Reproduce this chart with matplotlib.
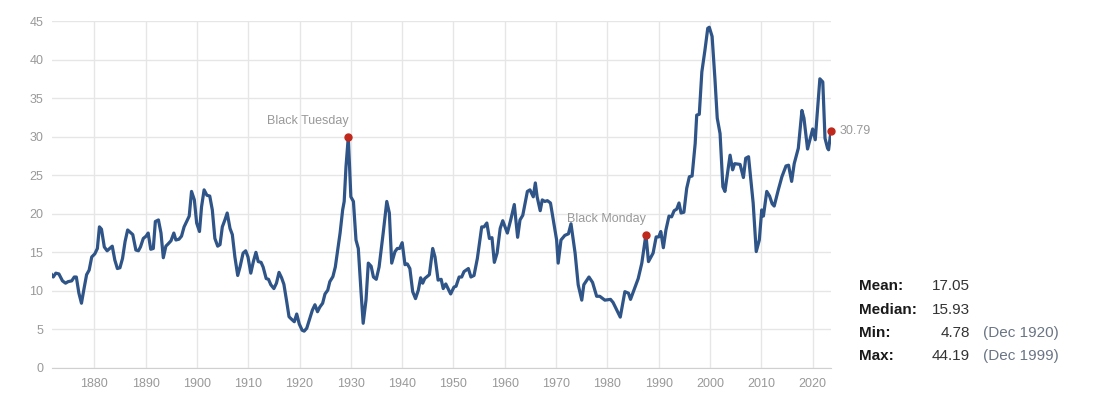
import matplotlib
matplotlib.use("Agg")
import matplotlib.pyplot as plt

plt.rcParams['font.family'] = ['Liberation Sans', 'DejaVu Sans']

years = [
    1871.7, 1872.0, 1872.5, 1873.1, 1873.8, 1874.4, 1874.9, 1875.6, 1876.1, 1876.5,
    1877.0, 1877.5, 1878.0, 1878.5, 1879.0, 1879.5, 1880.1, 1880.6, 1881.0, 1881.4,
    1881.95, 1882.5, 1883.0, 1883.5, 1884.0, 1884.5, 1885.0, 1885.5, 1886.0, 1886.5,
    1887.0, 1887.5, 1888.1, 1888.6, 1889.0, 1889.55, 1890.1, 1890.5, 1891.0, 1891.5,
    1891.9, 1892.5, 1893.0, 1893.45, 1893.95, 1894.4, 1894.95, 1895.5, 1895.9, 1896.5,
    1897.0, 1897.5, 1898.0, 1898.5, 1898.95, 1899.5, 1899.95, 1900.5, 1900.9, 1901.4,
    1901.95, 1902.5, 1903.0, 1903.5, 1904.05, 1904.5, 1904.95, 1905.45, 1905.9, 1906.45,
    1906.9, 1907.4, 1907.95, 1908.4, 1909.0, 1909.5, 1909.95, 1910.5, 1911.0, 1911.5,
    1911.95, 1912.5, 1912.9, 1913.5, 1913.95, 1914.4, 1915.0, 1915.5, 1916.0, 1916.5,
    1916.95, 1917.5, 1917.95, 1918.4, 1918.98, 1919.45, 1919.95, 1920.5, 1920.9, 1921.4,
    1921.9, 1922.5, 1923.0, 1923.5, 1923.95, 1924.5, 1924.96, 1925.5, 1925.9, 1926.5,
    1926.97, 1927.4, 1927.9, 1928.4, 1928.7, 1929.05, 1929.5, 1930.0, 1930.5, 1931.0,
    1931.45, 1932.0, 1932.4, 1932.95, 1933.4, 1933.95, 1934.4, 1934.95, 1935.5, 1936.3,
    1937.0, 1937.5, 1937.96, 1938.6, 1939.05, 1939.5, 1940.0, 1940.55, 1941.0, 1941.5,
    1942.05, 1942.6, 1943.15, 1943.6, 1944.0, 1944.4, 1945.3, 1945.95, 1946.4, 1947.0,
    1947.6, 1948.0, 1948.5, 1949.45, 1950.1, 1950.5, 1951.1, 1951.6, 1952.05, 1952.9,
    1953.4, 1954.0, 1954.65, 1955.5, 1955.95, 1956.5, 1957.0, 1957.5, 1957.96, 1958.5,
    1959.1, 1959.6, 1960.5, 1961.15, 1961.85, 1962.5, 1962.96, 1963.5, 1964.4, 1964.9,
    1965.55, 1965.95, 1966.3, 1966.9, 1967.3, 1967.8, 1968.3, 1968.9, 1969.45, 1970.1,
    1970.4, 1970.95, 1971.7, 1972.4, 1972.9, 1973.7, 1974.3, 1975.0, 1975.4, 1976.4,
    1977.1, 1977.9, 1978.5, 1979.5, 1980.6, 1981.1, 1982.5, 1983.4, 1984.1, 1984.5,
    1986.0, 1986.7, 1987.5, 1988.0, 1988.9, 1989.5, 1990.0, 1990.4, 1990.9, 1991.4,
    1992.0, 1992.5, 1993.0, 1993.5, 1993.95, 1994.35, 1994.9, 1995.45, 1995.97, 1996.5,
    1997.1, 1997.4, 1997.9, 1998.4, 1999.0, 1999.55, 1999.85, 2000.4, 2000.96, 2001.4,
    2001.95, 2002.5, 2002.9, 2003.9, 2004.4, 2004.8, 2005.85, 2006.5, 2006.95, 2007.5,
    2008.4, 2009.0, 2009.6, 2010.07, 2010.4, 2011.05, 2011.6, 2012.1, 2012.5, 2013.3,
    2014.0, 2014.8, 2015.3, 2015.9, 2016.4, 2017.2, 2017.9, 2018.3, 2019.0, 2020.0,
    2020.5, 2021.4, 2021.97, 2022.4, 2022.9, 2023.1, 2023.57,
]
pe_values = [
    12.1, 11.8, 12.3, 12.2, 11.3, 11.0, 11.2, 11.3, 11.8, 11.8,
    9.7, 8.4, 10.3, 12.1, 12.7, 14.4, 14.8, 15.5, 18.3, 18.0,
    15.7, 15.2, 15.5, 15.8, 14.0, 12.9, 13.0, 14.2, 16.4, 17.9,
    17.6, 17.3, 15.3, 15.2, 15.7, 16.8, 17.1, 17.5, 15.4, 15.5,
    19.0, 19.2, 17.5, 14.3, 15.8, 16.1, 16.5, 17.5, 16.6, 16.7,
    17.1, 18.3, 19.0, 19.7, 22.9, 21.8, 18.8, 17.7, 20.9, 23.1,
    22.4, 22.3, 20.5, 16.8, 15.8, 16.0, 18.3, 19.2, 20.1, 18.1,
    17.3, 14.4, 12.0, 13.1, 14.9, 15.2, 14.4, 12.3, 13.8, 15.0,
    13.8, 13.7, 13.1, 11.6, 11.5, 10.8, 10.3, 11.0, 12.4, 11.7,
    10.85, 8.6, 6.65, 6.35, 6.0, 7.0, 5.7, 4.9, 4.78, 5.15,
    6.2, 7.5, 8.2, 7.3, 7.9, 8.4, 9.6, 10.1, 11.2, 11.85,
    13.1, 15.1, 17.5, 20.5, 21.6, 26.1, 29.96, 22.2, 21.6, 16.6,
    15.5, 9.7, 5.8, 8.8, 13.6, 13.2, 11.8, 11.5, 13.1, 17.5,
    21.6, 20.1, 13.6, 15.1, 15.5, 15.5, 16.25, 13.4, 13.5, 12.9,
    9.9, 9.0, 10.1, 11.7, 11.0, 11.6, 12.1, 15.5, 14.4, 11.4,
    11.5, 10.3, 10.9, 9.6, 10.5, 10.6, 11.8, 11.8, 12.5, 12.9,
    11.8, 12.0, 14.2, 18.3, 18.3, 18.8, 16.8, 16.9, 13.7, 14.9,
    18.1, 19.1, 17.5, 19.2, 21.2, 16.95, 19.2, 19.8, 22.9, 23.1,
    22.2, 24.0, 22.2, 20.4, 21.8, 21.6, 21.7, 21.4, 19.2, 16.6,
    13.6, 16.6, 17.2, 17.4, 18.7, 14.9, 10.8, 8.8, 10.8, 11.8,
    11.1, 9.3, 9.3, 8.8, 8.9, 8.5, 6.6, 9.9, 9.7, 8.9,
    11.6, 13.6, 17.3, 13.8, 14.9, 17.0, 17.0, 17.7, 15.6, 17.9,
    19.7, 19.6, 20.4, 20.6, 21.4, 20.1, 20.2, 23.3, 24.8, 24.9,
    29.1, 32.8, 32.9, 38.4, 41.2, 44.05, 44.19, 43.0, 37.4, 32.4,
    30.4, 23.5, 22.9, 27.6, 25.7, 26.5, 26.4, 24.7, 27.2, 27.4,
    21.4, 15.1, 16.6, 20.5, 19.7, 22.9, 22.3, 21.3, 21.0, 23.1,
    24.8, 26.2, 26.3, 24.2, 26.5, 28.5, 33.4, 32.4, 28.4, 31.0,
    29.6, 37.5, 37.1, 29.8, 28.5, 28.3, 30.79,
]

event_labels = ["Black Tuesday", "Black Monday"]
event_years = [1929.5, 1987.5]
event_values = [29.96, 17.3]

y_ticks = [0, 5, 10, 15, 20, 25, 30, 35, 40, 45]
x_ticks = [1880, 1890, 1900, 1910, 1920, 1930, 1940, 1950, 1960, 1970, 1980, 1990, 2000, 2010, 2020]

stat_names = ["Mean:", "Median:", "Min:", "Max:"]
stat_values = ["17.05", "15.93", "4.78", "44.19"]
stat_dates = ["", "", "(Dec 1920)", "(Dec 1999)"]

LINE = "#2f5487"
RED = "#c0281c"
GRAY = "#999999"

fig = plt.figure(figsize=(10.95, 3.96), dpi=100)
ax = fig.add_axes([51.7 / 1095, 1 - 368 / 396, (831 - 51.7) / 1095, (368 - 21) / 396])

ax.plot(years, pe_values, color=LINE, lw=2.3, solid_joinstyle='round', zorder=3)

for lab, xv, yv in zip(event_labels, event_years, event_values):
    ax.plot([xv], [yv], 'o', color=RED, ms=5, zorder=4)
    ax.annotate(lab, (xv, yv), xytext=(0, 7), textcoords='offset points',
                ha='right', va='bottom', color=GRAY, fontsize=9)

ax.plot([years[-1]], [pe_values[-1]], 'o', color=RED, ms=5, zorder=4, clip_on=False)
ax.annotate(f"{pe_values[-1]:.2f}", (years[-1], pe_values[-1]), xytext=(6, 0),
            textcoords='offset points', ha='left', va='center', color=GRAY, fontsize=9)

ax.set_xlim(years[0], years[-1])
ax.set_ylim(0, 45)
ax.set_yticks(y_ticks)
ax.set_xticks(x_ticks)
ax.grid(True, color="#e6e6e6", lw=1)
ax.set_axisbelow(True)
for s in ['top', 'right', 'left']:
    ax.spines[s].set_visible(False)
ax.spines['bottom'].set_color("#d0d0d0")
ax.tick_params(axis='both', length=0, colors=GRAY, labelsize=9)
ax.tick_params(axis='y', pad=6)
ax.tick_params(axis='x', pad=7)

row_y = [286, 310, 333, 356]
for name, val, date, yp in zip(stat_names, stat_values, stat_dates, row_y):
    fy = 1 - yp / 396
    fig.text(859 / 1095, fy, name, ha='left', va='center', fontsize=11,
             fontweight='bold', color="#1a1a1a")
    fig.text(970 / 1095, fy, val, ha='right', va='center', fontsize=11, color="#333333")
    if date:
        fig.text(983 / 1095, fy, date, ha='left', va='center', fontsize=11, color="#6a7585")

fig.savefig("out.png", dpi=100, facecolor='white')
